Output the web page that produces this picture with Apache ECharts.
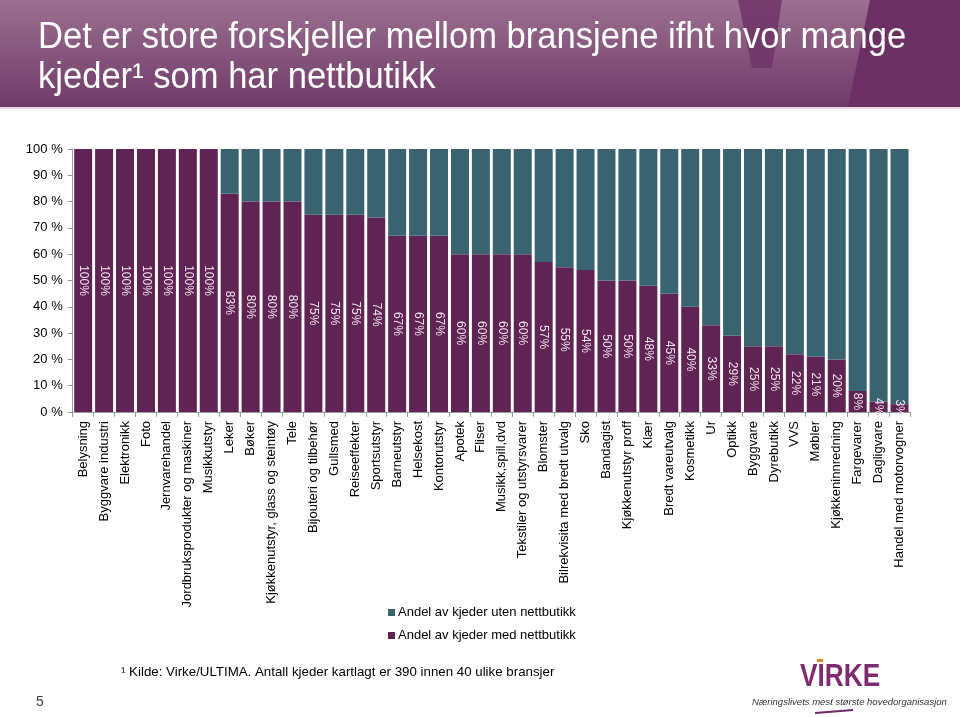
<!DOCTYPE html>
<html>
<head>
<meta charset="utf-8">
<script src="https://cdn.jsdelivr.net/npm/echarts@6/dist/echarts.min.js"></script>
<style>
html,body{margin:0;padding:0;background:#fff;}
#c{width:960px;height:717px;}
</style>
</head>
<body>
<div id="c"></div>
<script>
var categories = ["Belysning","Byggvare industri","Elektronikk","Foto","Jernvarehandel","Jordbruksprodukter og maskiner","Musikkutstyr","Leker","Bøker","Kjøkkenutstyr, glass og steintøy","Tele","Bijouteri og tilbehør","Gullsmed","Reiseeffekter","Sportsutstyr","Barneutstyr","Helsekost","Kontorutstyr","Apotek","Fliser","Musikk,spill,dvd","Tekstiler og utstyrsvarer","Blomster","Bilrekvisita med bredt utvalg","Sko","Bandagist","Kjøkkenutstyr proff","Klær","Bredt vareutvalg","Kosmetikk","Ur","Optikk","Byggvare","Dyrebutikk","VVS","Møbler","Kjøkkeninnredning","Fargevarer","Dagligvare","Handel med motorvogner"];
var withShop = [100,100,100,100,100,100,100,83,80,80,80,75,75,75,74,67,67,67,60,60,60,60,57,55,54,50,50,48,45,40,33,29,25,25,22,21,20,8,4,3];
var withoutShop = [0,0,0,0,0,0,0,17,20,20,20,25,25,25,26,33,33,33,40,40,40,40,43,45,46,50,50,52,55,60,67,71,75,75,78,79,80,92,96,97];
var seriesNames = ["Andel av kjeder med nettbutikk","Andel av kjeder uten nettbutikk"];
var titleLines = ["Det er store forskjeller mellom bransjene ifht hvor mange","kjeder¹ som har nettbutikk"];
var footnote = "¹ Kilde: Virke/ULTIMA. Antall kjeder kartlagt er 390 innen 40 ulike bransjer";

var purple = "#5f2453";
var teal = "#3a6370";
var font = "Arial, 'Liberation Sans', sans-serif";

var chart = echarts.init(document.getElementById('c'), null, {renderer:'canvas'});
chart.setOption({
  backgroundColor: '#ffffff',
  animation: false,
  grid: {left: 72.7, right: 50, top: 149, bottom: 305, containLabel: false},
  legend: {
    orient: 'vertical', left: 383, top: 601,
    itemWidth: 7, itemHeight: 7, itemGap: 10, icon: 'rect',
    data: [seriesNames[1], seriesNames[0]],
    textStyle: {fontFamily: font, fontSize: 13, color: '#000', padding: [0,0,0,-2]}
  },
  xAxis: {
    type: 'category', data: categories,
    axisLine: {show: true, lineStyle: {color: '#999', width: 1}},
    axisTick: {show: true, length: 5, lineStyle: {color: '#999'}},
    axisLabel: {rotate: 90, interval: 0, margin: 9, fontFamily: font, fontSize: 13, color: '#000'}
  },
  yAxis: {
    type: 'value', min: 0, max: 100, interval: 10,
    axisLine: {show: true, lineStyle: {color: '#999', width: 1}},
    axisTick: {show: true, length: 5, lineStyle: {color: '#999'}},
    splitLine: {show: false},
    axisLabel: {formatter: '{value} %', margin: 10, fontFamily: font, fontSize: 13, color: '#000'}
  },
  series: [
    {
      name: seriesNames[0], type: 'bar', stack: 's', data: withShop,
      barCategoryGap: '14%',
      itemStyle: {color: purple},
      label: {show: true, position: 'inside', rotate: -90, formatter: '{c}%',
        fontFamily: font, fontSize: 12, color: '#f3e4ee'}
    },
    {
      name: seriesNames[1], type: 'bar', stack: 's', data: withoutShop,
      barCategoryGap: '14%',
      itemStyle: {color: teal}
    }
  ],
  graphic: [
    {type:'rect', z:-1, shape:{x:0,y:0,width:960,height:107},
      style:{fill:{type:'linear',x:0,y:0,x2:0,y2:1,colorStops:[{offset:0,color:'#9c7090'},{offset:1,color:'#6f3a69'}]}}},
    {type:'polygon', z:-1, shape:{points:[[738,0],[782,0],[772,68],[752,68]]}, style:{fill:'#6f3567', opacity:0.85}},
    {type:'polygon', z:-1, shape:{points:[[870,0],[960,0],[960,107],[848,107]]}, style:{fill:'#6b3063'}},
    {type:'rect', z:-1, shape:{x:0,y:107,width:960,height:2}, style:{fill:'#ead5e3'}},
    {type:'text', x: 38, y: 20, scaleX: 0.96, style:{text: titleLines[0], fill:'#fff', font: '36px ' + font}},
    {type:'text', x: 38, y: 60, scaleX: 0.96, style:{text: titleLines[1], fill:'#fff', font: '36px ' + font}},
    {type:'text', x: 121, y: 666, style:{text: footnote, fill:'#000', font: '13.3px ' + font}},
    {type:'text', x: 36, y: 695, style:{text: '5', fill:'#404040', font: '14px ' + font}},
    {type:'text', x: 800, y: 661, scaleX: 0.82, style:{text: 'VIRKE', font: 'bold 32px ' + font, fill:'#7e2c72'}},
    {type:'rect', shape:{x:817,y:659,width:6,height:3}, style:{fill:'#e08a2a'}},
    {type:'text', x: 752, y: 697, style:{text: 'Næringslivets mest største hovedorganisasjon', fill:'#333', font: 'italic 9.5px ' + font}},
    {type:'line', shape:{x1:815,y1:713,x2:853,y2:710}, style:{stroke:'#6a2a68', lineWidth:2}}
  ]
});
</script>
</body>
</html>
